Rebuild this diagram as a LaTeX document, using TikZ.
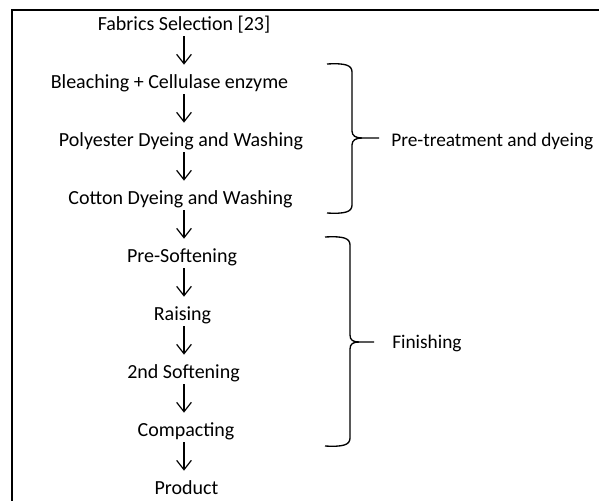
\documentclass[tikz,border=0pt]{standalone}
\usepackage{fontspec}
\setmainfont{Carlito}
\usetikzlibrary{arrows.meta}
\begin{document}
\begin{tikzpicture}[x=0.75pt,y=-0.75pt,>={Straight Barb[length=7pt,width=11pt]},
	stepnode/.style={inner sep=0,outer sep=0,anchor=base,text height=10pt,text depth=4.5pt,font=\fontsize{15}{18}\selectfont},
	sidenode/.style={inner sep=0,anchor=base west,font=\fontsize{14.5}{18}\selectfont},
	flow/.style={->,line width=0.9pt,shorten >=7.5pt},
	bracket/.style={line width=1pt}]
	\useasboundingbox (0,0) rectangle (599,500);
	% frame
	\draw[line width=1.8pt] (610,10) -- (12,10) -- (12,510);
	% steps
	\coordinate (ax) at (184,0);
	\node[stepnode] (fab) at (184,30) {Fabrics Selection [23]};
	\node[stepnode] (bleach) at (169.5,88) {Bleaching + Cellulase enzyme};
	\node[stepnode] (poly) at (181,146) {Polyester Dyeing and Washing};
	\node[stepnode] (cotton) at (180.5,204) {Cotton Dyeing and Washing};
	\node[stepnode] (presoft) at (182,262) {Pre-Softening};
	\node[stepnode] (raise) at (182.5,320) {Raising};
	\node[stepnode] (soft) at (183.5,378) {2nd Softening};
	\node[stepnode] (compact) at (186,436) {Compacting};
	\node[stepnode] (product) at (186.5,494) {Product};
	\foreach \a/\b in {fab/bleach,bleach/poly,poly/cotton,cotton/presoft,
		presoft/raise,raise/soft,soft/compact,compact/product}
		\draw[flow] (\a.south -| ax) -- (\b.north -| ax);
	% groups
	\node[sidenode] (pretreat) at (391,146) {Pre-treatment and dyeing};
	\node[sidenode] (finish) at (392,348) {Finishing};
	\coordinate (tip1) at (379,138);
	\coordinate (tip2) at (374,342);
	\draw[bracket] (327,64) .. controls (345,63) and (352,65) .. (352,72)
		-- (352,131) .. controls (352,136) and (356,138) .. (362,138) -- (tip1);
	\draw[bracket] (327,213) .. controls (345,214) and (352,212) .. (352,205)
		-- (352,145) .. controls (352,140) and (356,138) .. (362,138);
	\draw[bracket] (325,237) .. controls (343,236) and (350,238) .. (350,245)
		-- (350,335) .. controls (350,340) and (353,342) .. (359,342) -- (tip2);
	\draw[bracket] (325,446) .. controls (343,447) and (350,445) .. (350,438)
		-- (350,349) .. controls (350,344) and (353,342) .. (359,342);
\end{tikzpicture}
\end{document}
